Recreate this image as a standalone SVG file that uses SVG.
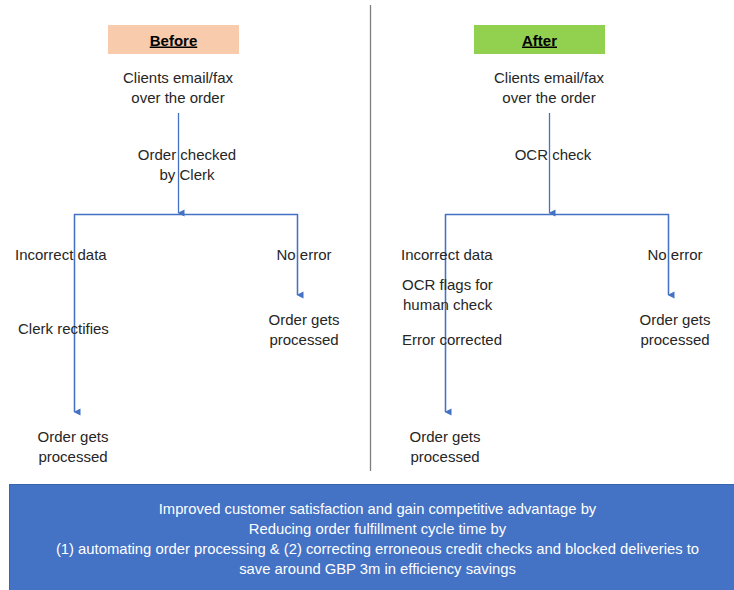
<svg xmlns="http://www.w3.org/2000/svg" width="734" height="590" viewBox="0 0 734 590">
<style>
text{font-family:"Liberation Sans",Arial,sans-serif;font-size:15px;fill:#262626}
.c{text-anchor:middle}
.h{font-weight:bold;font-size:15px;text-decoration:underline;fill:#000}
.w{fill:#fff;text-anchor:middle;font-size:14.8px}
.ln{stroke:#4472c4;stroke-width:1.3;fill:none}
</style>
<defs>
<marker id="ah" markerWidth="8" markerHeight="8" refX="4" refY="7" orient="auto" markerUnits="userSpaceOnUse" viewBox="0 0 8 8">
<path d="M0.5,1 L7.5,1 L4,8 Z" fill="#4472c4"/>
</marker>
</defs>
<rect width="734" height="590" fill="#fff"/>
<line x1="370.5" y1="5" x2="370.5" y2="471" stroke="#7f7f7f" stroke-width="1.3"/>

<g id="connectors">
<line class="ln" x1="178.5" y1="113" x2="178.5" y2="213" marker-end="url(#ah)"/>
<polyline class="ln" points="74.5,412 74.5,214.5 297.5,214.5 297.5,295"/>
<line class="ln" x1="74.5" y1="214.5" x2="74.5" y2="412" marker-end="url(#ah)"/>
<line class="ln" x1="297.5" y1="214.5" x2="297.5" y2="295" marker-end="url(#ah)"/>
<line class="ln" x1="549.5" y1="113" x2="549.5" y2="213" marker-end="url(#ah)"/>
<polyline class="ln" points="445.5,412 445.5,214.5 668.5,214.5 668.5,295"/>
<line class="ln" x1="445.5" y1="214.5" x2="445.5" y2="412" marker-end="url(#ah)"/>
<line class="ln" x1="668.5" y1="214.5" x2="668.5" y2="295" marker-end="url(#ah)"/>
</g>

<g id="before">
<rect x="108" y="25" width="131" height="29" fill="#f8cbad"/>
<text class="c h" x="173.5" y="45.5">Before</text>
</g>
<g id="after">
<rect x="474" y="25" width="131" height="29" fill="#92d050"/>
<text class="c h" x="539.5" y="45.5">After</text>
</g>

<g id="b-clients"><text class="c" x="178" y="83">Clients email/fax</text><text class="c" x="178" y="103">over the order</text></g>
<g id="b-check"><text class="c" x="187" y="160">Order checked</text><text class="c" x="187" y="180">by Clerk</text></g>
<g id="b-incorrect"><text x="15" y="260">Incorrect data</text></g>
<g id="b-rectifies"><text x="18" y="334">Clerk rectifies</text></g>
<g id="b-noerror"><text class="c" x="304" y="260">No error</text></g>
<g id="b-processed-r"><text class="c" x="304" y="325">Order gets</text><text class="c" x="304" y="345">processed</text></g>
<g id="b-processed-l"><text class="c" x="73" y="442">Order gets</text><text class="c" x="73" y="462">processed</text></g>

<g id="a-clients"><text class="c" x="549" y="83">Clients email/fax</text><text class="c" x="549" y="103">over the order</text></g>
<g id="a-check"><text class="c" x="553" y="160">OCR check</text></g>
<g id="a-incorrect"><text x="401" y="260">Incorrect data</text></g>
<g id="a-flags"><text x="402" y="290">OCR flags for</text><text x="403" y="310">human check</text></g>
<g id="a-corrected"><text x="402" y="345">Error corrected</text></g>
<g id="a-noerror"><text class="c" x="675" y="260">No error</text></g>
<g id="a-processed-r"><text class="c" x="675" y="325">Order gets</text><text class="c" x="675" y="345">processed</text></g>
<g id="a-processed-l"><text class="c" x="445" y="442">Order gets</text><text class="c" x="445" y="462">processed</text></g>

<g id="summary">
<rect x="9.5" y="484.5" width="725" height="106" fill="#4472c4" stroke="#3a64b0" stroke-width="1"/>
<text class="w" x="377.5" y="514">Improved customer satisfaction and gain competitive advantage by</text>
<text class="w" x="377.5" y="534">Reducing order fulfillment cycle time by</text>
<text class="w" x="377.5" y="554">(1) automating order processing &amp; (2) correcting erroneous credit checks and blocked deliveries to</text>
<text class="w" x="377.5" y="574">save around GBP 3m in efficiency savings</text>
</g>
</svg>
